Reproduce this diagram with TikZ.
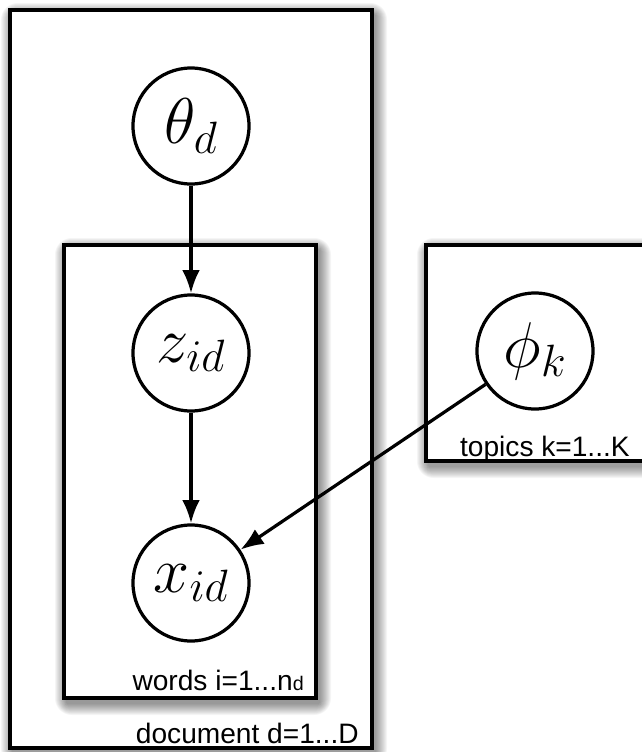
\RequirePackage{fix-cm}
\documentclass[tikz,border=0pt]{standalone}
\usepackage{amsmath}
\usepackage{fontspec}
\setmainfont{Liberation Sans}
\usetikzlibrary{arrows.meta}

\begin{document}
\begin{tikzpicture}[x=0.025cm,y=-0.025cm,
    var/.style={circle,draw,line width=2.3pt,minimum size=2.9cm,inner sep=0pt,font=\fontsize{46}{54}\selectfont},
    plate/.style={fill=white,draw,line width=2.3pt},
    platelabel/.style={font=\fontsize{20}{24}\selectfont,inner sep=0pt,anchor=base east},
    edge/.style={line width=2.3pt,-{Latex[length=0.58cm,width=0.44cm]}}]
    \useasboundingbox (0,0) rectangle (641,752);
    % document plate
    \foreach \r in {1,...,12}
        \fill[black,opacity=0.04,rounded corners=\r] (10-\r+3,10-\r+5) rectangle (372+\r+3,748+\r+5);
    \draw[plate] (10,10) rectangle (372,748);
    \node at (359,743) [platelabel] (ldoc) {document d=1...D};
    % words plate
    \foreach \r in {1,...,12}
        \fill[black,opacity=0.04,rounded corners=\r] (64-\r+3,245-\r+5) rectangle (316+\r+3,698+\r+5);
    \draw[plate] (64,245) rectangle (316,698);
    \node at (304,690) [platelabel] (lwords) {words i=1...n{\fontsize{14}{16}\selectfont d}};
    % topics plate
    \foreach \r in {1,...,12}
        \fill[black,opacity=0.04,rounded corners=\r] (426-\r+3,245-\r+5) rectangle (650+\r+3,461+\r+5);
    \draw[plate] (426,245) rectangle (650,461);
    \node at (630,456) [platelabel] (ltopics) {topics k=1...K};
    % variables
    \node at (191,126) [var] (theta) {$\theta_d$};
    \node at (191,353) [var] (z) {$z_{id}$};
    \node at (191,583) [var] (x) {$x_{id}$};
    \node at (535,351) [var] (phi) {$\phi_k$};
    \draw[edge] (theta) -- (z);
    \draw[edge] (z) -- (x);
    \draw[edge] (phi) -- (x);
\end{tikzpicture}
\end{document}
